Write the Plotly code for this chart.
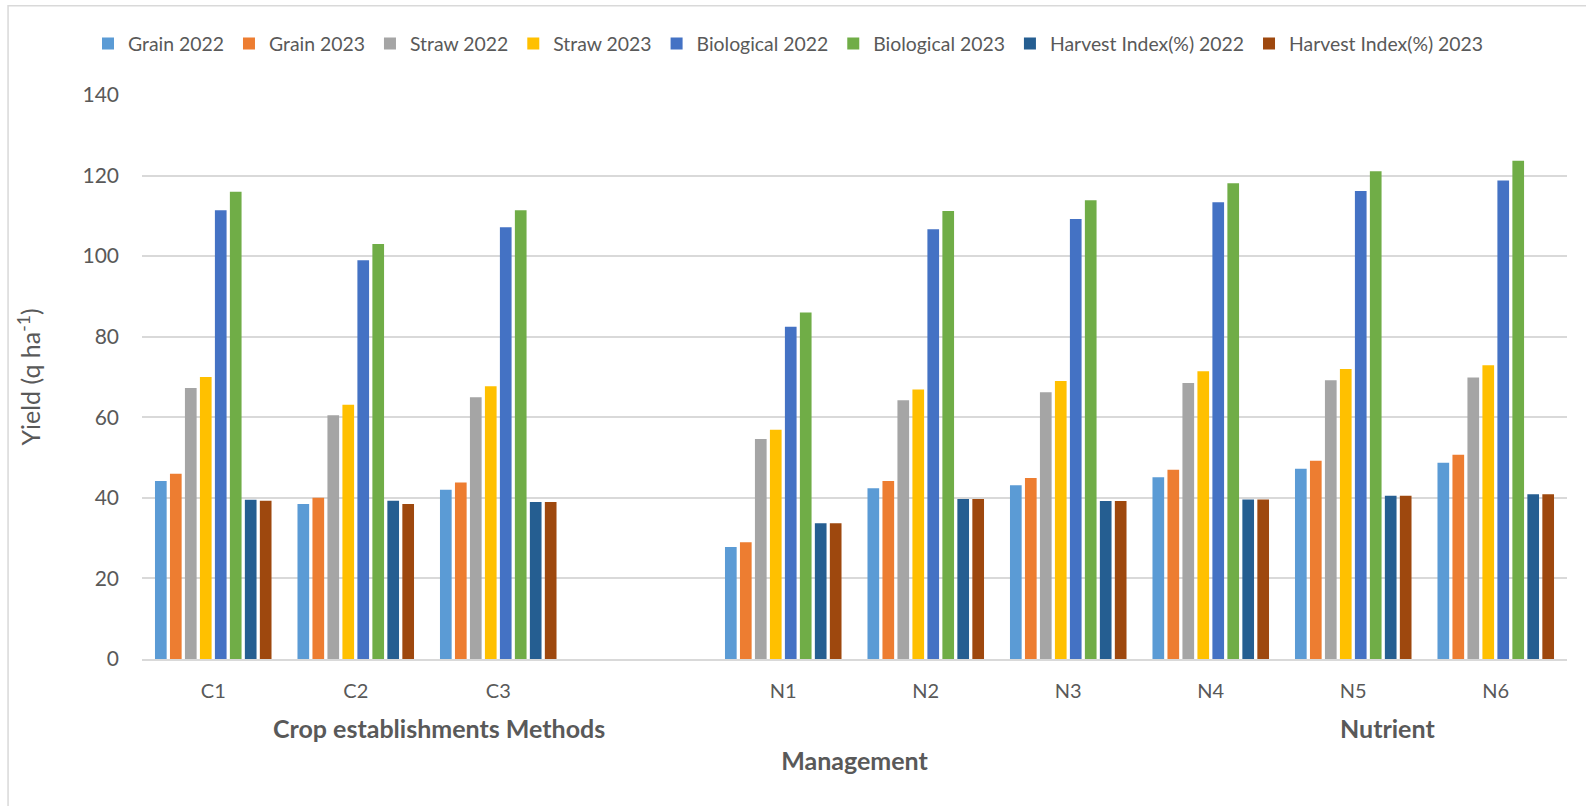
import plotly.graph_objects as go

categories = ["C1", "C2", "C3", " ", "N1", "N2", "N3", "N4", "N5", "N6"]

series_names = ["Grain 2022", "Grain 2023", "Straw 2022", "Straw 2023",
                "Biological 2022", "Biological 2023",
                "Harvest Index(%) 2022", "Harvest Index(%) 2023"]

grain_2022 = [44.2, 38.5, 42.0, None, 27.8, 42.4, 43.1, 45.1, 47.2, 48.7]
grain_2023 = [46.0, 40.0, 43.8, None, 29.0, 44.2, 44.9, 47.0, 49.2, 50.7]
straw_2022 = [67.3, 60.5, 65.0, None, 54.6, 64.2, 66.2, 68.5, 69.2, 69.9]
straw_2023 = [70.0, 63.1, 67.7, None, 56.9, 66.9, 69.0, 71.4, 72.0, 72.9]
bio_2022 = [111.4, 99.0, 107.2, None, 82.5, 106.7, 109.2, 113.4, 116.2, 118.8]
bio_2023 = [116.0, 103.0, 111.4, None, 86.0, 111.2, 113.9, 118.1, 121.1, 123.7]
hi_2022 = [39.5, 39.3, 39.0, None, 33.7, 39.7, 39.2, 39.6, 40.5, 40.9]
hi_2023 = [39.3, 38.5, 39.0, None, 33.7, 39.7, 39.2, 39.6, 40.5, 40.9]

colors = ["#5B9BD5", "#ED7D31", "#A5A5A5", "#FFC000",
          "#4472C4", "#70AD47", "#255E91", "#9E480E"]

all_values = [grain_2022, grain_2023, straw_2022, straw_2023,
              bio_2022, bio_2023, hi_2022, hi_2023]

group_labels = ["Crop establishments Methods", "Nutrient"]
x_title = "Management"
y_title = "Yield (q ha<sup>-1</sup>)"

FONT = "Lato"
TXT = "#595959"
GRID = "#d9d9d9"

fig = go.Figure()
for name, vals, col in zip(series_names, all_values, colors):
    fig.add_trace(go.Bar(name=name, x=categories, y=vals,
                         marker=dict(color=col, line=dict(width=0))))

W, H = 1586, 806
L, R, T, B = 141.5, 19, 95, 146.8
pw = W - L - R
ph = H - T - B


def px_x(x):
    return (x - L) / pw


def px_y(y):
    return (H - B - y) / ph


shown_ticks = [c for c in categories if c.strip()]

fig.update_layout(
    width=W, height=H,
    margin=dict(l=L, r=R, t=T, b=B, autoexpand=False),
    paper_bgcolor="white", plot_bgcolor="white",
    font=dict(family=FONT, color=TXT, size=20),
    barmode="group", bargap=0.159, bargroupgap=0.22,
    legend=dict(orientation="h", xref="container", x=88 / W,
                xanchor="left",
                yref="container", y=1 - 44 / H, yanchor="middle",
                font=dict(family=FONT, size=19.4, color=TXT),
                itemwidth=30, tracegroupgap=0),
    xaxis=dict(type="category", showgrid=False, showline=True,
               linecolor=GRID, linewidth=1.5, ticks="",
               tickmode="array", tickvals=shown_ticks, ticktext=shown_ticks,
               tickfont=dict(family=FONT, size=20, color=TXT),
               ticklabelstandoff=13,
               title=dict(text=f"<b>{x_title}</b>", standoff=52,
                          font=dict(family=FONT, size=25, color=TXT))),
    yaxis=dict(range=[0, 140], dtick=20, showgrid=True, gridcolor=GRID,
               gridwidth=1.5, zeroline=False, showline=False, ticks="",
               tickfont=dict(family=FONT, size=21, color=TXT),
               ticklabelstandoff=22,
               title=dict(text=y_title, standoff=34,
                          font=dict(family=FONT, size=25, color=TXT))),
    shapes=[dict(type="rect", xref="paper", yref="paper",
                 x0=px_x(7.5), x1=px_x(1600), y0=px_y(820), y1=px_y(5.7),
                 line=dict(color=GRID, width=1.5), fillcolor="rgba(0,0,0,0)",
                 layer="below")],
    annotations=[
        dict(text=f"<b>{group_labels[0]}</b>", xref="paper", yref="paper",
             x=px_x(439), y=px_y(728), xanchor="center", yanchor="middle",
             showarrow=False, font=dict(family=FONT, size=25, color=TXT)),
        dict(text=f"<b>{group_labels[1]}</b>", xref="paper", yref="paper",
             x=px_x(1387), y=px_y(728), xanchor="center", yanchor="middle",
             showarrow=False, font=dict(family=FONT, size=25, color=TXT)),
    ],
)

fig.write_html("out.html")
